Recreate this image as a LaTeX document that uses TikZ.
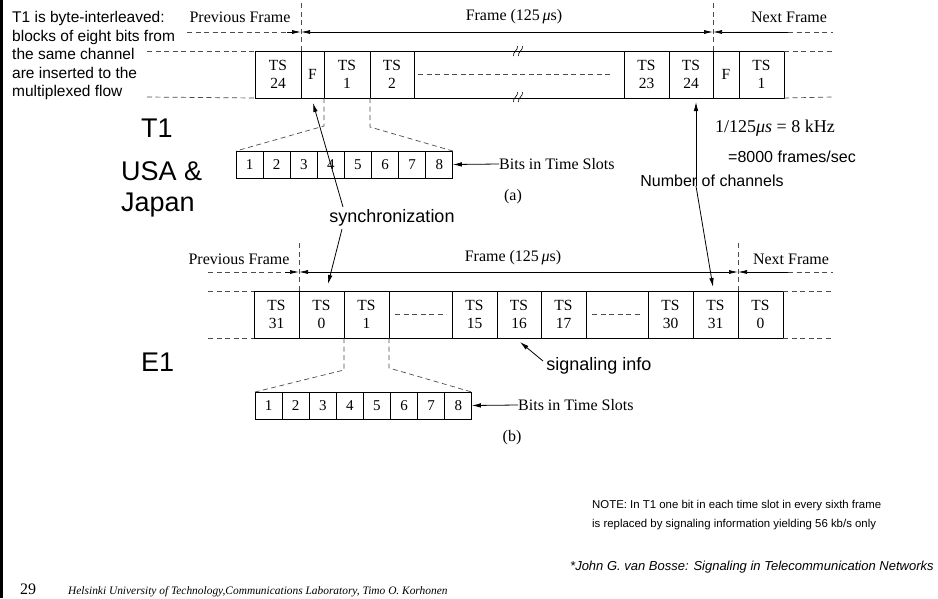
\documentclass[tikz,border=0pt]{standalone}
\usepackage{fontspec}
\setmainfont{Liberation Serif}
\newfontfamily\arial{Liberation Sans}
\usetikzlibrary{arrows.meta}
\tikzset{
  cellbox/.style={draw, line width=0.9pt, minimum height=47pt, inner sep=0pt, outer sep=0pt, anchor=north west, align=center, font=\fontsize{15.5}{18}\selectfont},
  bitbox/.style={draw, line width=0.9pt, minimum height=27pt, minimum width=27.1pt, inner sep=0pt, outer sep=0pt, anchor=north west, font=\fontsize{15}{18}\selectfont},
  ext/.style={dash pattern=on 5pt off 3.5pt, line width=0.7pt, black!70},
  lbl/.style={font=\fontsize{16}{18}\selectfont, inner sep=0pt},
  sans/.style={font=\arial\fontsize{16}{19}\selectfont, inner sep=0pt},
  sanslg/.style={font=\arial\fontsize{18}{20}\selectfont, inner sep=0pt},
  big/.style={font=\arial\fontsize{27}{32}\selectfont, inner sep=0pt, anchor=base west},
  dimarrow/.style={line width=0.7pt, -{Latex[length=9pt,width=4pt]}},
  dimboth/.style={line width=0.7pt, {Latex[length=9pt,width=4pt]}-{Latex[length=9pt,width=4pt]}},
  ptr/.style={line width=0.8pt, -{Latex[length=9pt,width=4.5pt]}},
  solid line/.style={line width=0.9pt},
  brk/.style={line width=0.6pt},
  notetext/.style={anchor=base west, font=\arial\fontsize{11.4}{19}\selectfont, inner sep=0pt},
}
\begin{document}
\begin{tikzpicture}[x=1pt,y=-1pt]
\fill[white] (0,0) rectangle (938,598);
\useasboundingbox (0,0) rectangle (938,598);
\fill[black] (0,0) rectangle (3,598);

% intro text
\node[anchor=north west, align=left, font=\arial\fontsize{15.5}{18.5}\selectfont, inner sep=0pt] (intro) at (12,11.5)
 {T1 is byte-interleaved:\\blocks of eight bits from\\the same channel\\are inserted to the\\multiplexed flow};

% big labels
\node[big] (t1lbl) at (141,137) {T1};
\node[big] (usa) at (121,180) {USA \&};
\node[big] (jap) at (121,211) {Japan};
\node[big] (e1lbl) at (141,371) {E1};

% ===================== T1 (a) =====================
\node[lbl] (pfa) at (240,17) {Previous Frame};
\node[lbl] (fa) at (514,17) {Frame (125\,\textit{μ}s)};
\node[lbl] (nfa) at (789,17) {Next Frame};

\node[cellbox, minimum width=46pt] (a24) at (255,51) {TS\\24};
\node[cellbox, minimum width=23pt] (aF) at (301,51) {F};
\node[cellbox, minimum width=46pt] (a1) at (324,51) {TS\\1};
\node[cellbox, minimum width=44pt] (a2) at (370,51) {TS\\2};
\node[cellbox, minimum width=45pt] (a23) at (624,51) {TS\\23};
\node[cellbox, minimum width=44pt] (a24b) at (669,51) {TS\\24};
\node[cellbox, minimum width=26pt] (aFb) at (713,51) {F};
\node[cellbox, minimum width=45pt] (a1b) at (739,51) {TS\\1};

\draw[solid line] (a2.north east) -- (a23.north west);
\draw[solid line] (a2.south east) -- (a23.south west);
\foreach \yy in {51,97} {
  \foreach \dx in {-2.5,2.5} {
    \draw[brk] ({518+\dx-2},{\yy+5}) .. controls ({518+\dx-3},{\yy+1}) and ({518+\dx+3},{\yy-1}) .. ({518+\dx+2},{\yy-5});
  }
}
\coordinate (amdl) at (418,74);
\coordinate (amdr) at (612,74);
\draw[ext] (amdl) -- (amdr);

% extensions
\coordinate (aextl1) at (147,51);
\coordinate (aextl2) at (147,97);
\coordinate (aextr1) at (833,51);
\coordinate (aextr2) at (833,97);
\draw[ext] (aextl1) -- (a24.north west);
\draw[ext] (aextl2) -- (a24.south west);
\draw[ext] (a1b.north east) -- (aextr1);
\draw[ext] (a1b.south east) -- (aextr2);

% frame markers
\coordinate (aLtop) at (301,3);
\coordinate (aRtop) at (713,3);
\draw[ext] (aLtop) -- (aF.north west);
\draw[ext] (aRtop) -- (aFb.north west);

\coordinate (aLa) at (301,32);
\coordinate (aRa) at (713,32);
\coordinate (aLd) at (187,32);
\coordinate (aLs) at (287,32);
\coordinate (aRs) at (788,32);
\coordinate (aRd) at (833,32);
\draw[ext] (aLd) -- (aLs);
\draw[dimarrow] (aLs) -- (aLa);
\draw[dimboth] (aLa) -- (aRa);
\draw[dimarrow] (aRs) -- (aRa);
\draw[ext] (aRs) -- (aRd);

% bits (a)
\foreach \i in {1,...,8} {
  \node[bitbox] (ba\i) at ({236+(\i-1)*27.1},151) {\i};
}
\coordinate (ab1) at (324,126);
\coordinate (ab2) at (370,127);
\draw[ext] (aF.south east) -- (ab1) -- (ba1.north west);
\draw[ext] (a1.south east) -- (ab2) -- (ba8.north east);

\node[lbl, anchor=west] (bal) at (499,164) {Bits in Time Slots};
\draw[ptr] (bal.west) -- (ba8.east);
\node[lbl] (capa) at (513,197) {(a)};

% frequency notes
\node[lbl, font=\fontsize{18}{20}\selectfont] (freq) at (775,128) {1/125\textit{μs} = 8 kHz};
\node[sans] (fps) at (792,157) {=8000 frames/sec};

% ===================== E1 (b) =====================
\node[lbl] (pfb) at (239,259) {Previous Frame};
\node[lbl] (fb) at (513,258) {Frame (125\,\textit{μ}s)};
\node[lbl] (nfb) at (791,259) {Next Frame};

\node[cellbox, minimum width=45pt] (e31) at (254,291) {TS\\31};
\node[cellbox, minimum width=45pt] (e0) at (299,291) {TS\\0};
\node[cellbox, minimum width=45pt] (e1) at (344,291) {TS\\1};
\node[cellbox, minimum width=63pt] (eg1) at (389,291) {};
\node[cellbox, minimum width=45pt] (e15) at (452,291) {TS\\15};
\node[cellbox, minimum width=44pt] (e16) at (497,291) {TS\\16};
\node[cellbox, minimum width=45pt] (e17) at (541,291) {TS\\17};
\node[cellbox, minimum width=62pt] (eg2) at (586,291) {};
\node[cellbox, minimum width=45pt] (e30) at (648,291) {TS\\30};
\node[cellbox, minimum width=45pt] (e31b) at (693,291) {TS\\31};
\node[cellbox, minimum width=45pt] (e0b) at (738,291) {TS\\0};
\draw[ext] ([xshift=6pt]eg1.west) -- ([xshift=-6pt]eg1.east);
\draw[ext] ([xshift=6pt]eg2.west) -- ([xshift=-6pt]eg2.east);

\coordinate (eextl1) at (208,291);
\coordinate (eextl2) at (208,338);
\coordinate (eextr1) at (833,291);
\coordinate (eextr2) at (833,338);
\draw[ext] (eextl1) -- (e31.north west);
\draw[ext] (eextl2) -- (e31.south west);
\draw[ext] (e0b.north east) -- (eextr1);
\draw[ext] (e0b.south east) -- (eextr2);

\coordinate (eLtop) at (299,243);
\coordinate (eRtop) at (738,243);
\draw[ext] (eLtop) -- (e0.north west);
\draw[ext] (eRtop) -- (e0b.north west);

\coordinate (eLa) at (299,272);
\coordinate (eRa) at (738,272);
\coordinate (eLd) at (208,272);
\coordinate (eLs) at (285,272);
\coordinate (eRs) at (788,272);
\coordinate (eRd) at (833,272);
\draw[ext] (eLd) -- (eLs);
\draw[dimarrow] (eLs) -- (eLa);
\draw[dimboth] (eLa) -- (eRa);
\draw[dimarrow] (eRs) -- (eRa);
\draw[ext] (eRs) -- (eRd);

% bits (b)
\foreach \i in {1,...,8} {
  \node[bitbox] (bb\i) at ({255+(\i-1)*27.1},392) {\i};
}
\coordinate (eb1) at (344,370);
\coordinate (eb2) at (389,368);
\draw[ext] (e0.south east) -- (eb1) -- (bb1.north west);
\draw[ext] (e1.south east) -- (eb2) -- (bb8.north east);

\node[lbl, anchor=west] (bbl) at (518,405) {Bits in Time Slots};
\draw[ptr] (bbl.west) -- (bb8.east);
\node[lbl] (capb) at (512,438) {(b)};

% ===================== pointers =====================
\node[sanslg] (sync) at (392,218) {synchronization};
\coordinate (syt) at (343,207);
\coordinate (syA) at (313,103);
\coordinate (syb) at (342,229);
\coordinate (syB) at (328,284);
\draw[ptr] (syt) -- (syA);
\draw[ptr] (syb) -- (syB);

\node[sans] (nch) at (712,181) {Number of channels};
\coordinate (ncA) at (696,102);
\coordinate (ncM) at (696,186);
\coordinate (ncB) at (713,287);
\draw[ptr] (ncM) -- (ncA);
\draw[ptr] (ncM) -- (ncB);

\node[sanslg] (sig) at (599,366) {signaling info};
\coordinate (sigS) at (543,361);
\coordinate (sigA) at (520,342);
\draw[ptr] (sigS) -- (sigA);

% ===================== footer =====================
\node[notetext] (note1) at (592,508) {NOTE: In T1 one bit in each time slot in every sixth frame};
\node[notetext] (note2) at (592,527) {is replaced by signaling information yielding 56 kb/s only};
\node[anchor=base west, font=\arial\itshape\fontsize{13}{16}\selectfont, inner sep=0pt] (src) at (570,570) {*John G. van Bosse: Signaling in Telecommunication Networks};
\node[anchor=base west, font=\fontsize{16}{18}\selectfont, inner sep=0pt] (pg) at (20,594) {29};
\node[anchor=base west, font=\itshape\fontsize{11.4}{13}\selectfont, inner sep=0pt] (inst) at (68,594) {Helsinki University of Technology,Communications Laboratory, Timo O. Korhonen};
\end{tikzpicture}
\end{document}
